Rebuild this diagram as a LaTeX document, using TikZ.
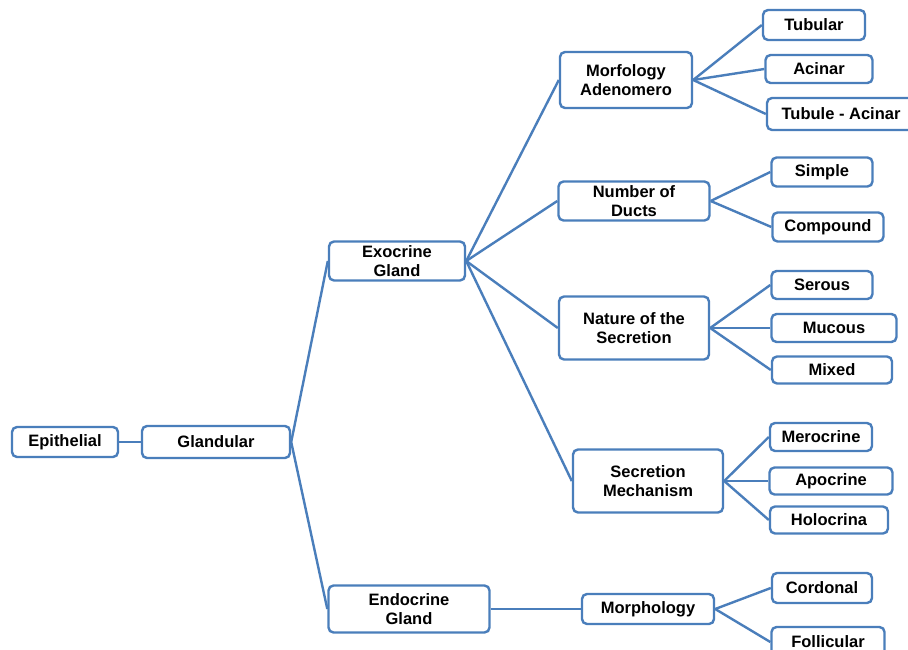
\documentclass[tikz,border=0pt]{standalone}
\usepackage{fontspec}
\setmainfont{Liberation Sans}
\usetikzlibrary{positioning}
\definecolor{lineblue}{RGB}{74,126,187}

\begin{document}
\begin{tikzpicture}[
    x=1pt, y=-1pt,
    font=\fontsize{16.5}{19.5}\selectfont\bfseries,
    box/.style={
        rectangle, draw=lineblue, line width=2.4pt,
        rounded corners=5pt, fill=white,
        align=center, inner sep=0pt
    },
    link/.style={draw=lineblue, line width=2.4pt}
]
\clip (0,0) rectangle (908,650);
\fill[white] (0,0) rectangle (908,650);

% 1. ROOT
\node[box, minimum width=106pt, minimum height=30pt] (Epi) at (65,442) {Epithelial};
\node[box, minimum width=148pt, minimum height=32pt] (Gland) at (216,442) {Glandular};
\draw[link] (Epi) -- (Gland);

% 2. EXOCRINE / ENDOCRINE
\node[box, minimum width=136pt, minimum height=39pt] (Exo) at (397,261) {Exocrine\\Gland};
\node[box, minimum width=161pt, minimum height=47pt] (Endo) at (409,609) {Endocrine\\Gland};
\draw[link] (Gland.east) -- (Exo.west);
\draw[link] (Gland.east) -- (Endo.west);

% 3. EXOCRINE CRITERIA
\node[box, minimum width=132pt, minimum height=56pt] (Morf) at (626,80) {Morfology\\Adenomero};
\node[box, minimum width=151pt, minimum height=39pt] (Ducts) at (634,201) {Number of\\Ducts};
\node[box, minimum width=150pt, minimum height=63pt] (Nature) at (634,328) {Nature of the\\Secretion};
\node[box, minimum width=150pt, minimum height=63pt] (Mech) at (648,481) {Secretion\\Mechanism};
\draw[link] (Exo.east) -- (Morf.west);
\draw[link] (Exo.east) -- (Ducts.west);
\draw[link] (Exo.east) -- (Nature.west);
\draw[link] (Exo.east) -- (Mech.west);

% Endocrine criterion
\node[box, minimum width=132pt, minimum height=30pt] (Morph) at (648,609) {Morphology};
\draw[link] (Endo.east) -- (Morph.west);

% 4. LEAVES
\node[box, minimum width=102pt, minimum height=30pt] (Tub) at (814,25) {Tubular};
\node[box, minimum width=107pt, minimum height=28pt] (Aci) at (819,69) {Acinar};
\node[box, minimum width=148pt, minimum height=32pt] (TubAci) at (841,114) {Tubule - Acinar};
\draw[link] (Morf.east) -- (Tub.west);
\draw[link] (Morf.east) -- (Aci.west);
\draw[link] (Morf.east) -- (TubAci.west);

\node[box, minimum width=101pt, minimum height=29pt] (Simp) at (822,172) {Simple};
\node[box, minimum width=111pt, minimum height=29pt] (Comp) at (828,227) {Compound};
\draw[link] (Ducts.east) -- (Simp.west);
\draw[link] (Ducts.east) -- (Comp.west);

\node[box, minimum width=101pt, minimum height=28pt] (Ser) at (822,285) {Serous};
\node[box, minimum width=125pt, minimum height=28pt] (Muc) at (834,328) {Mucous};
\node[box, minimum width=120pt, minimum height=27pt] (Mix) at (832,370) {Mixed};
\draw[link] (Nature.east) -- (Ser.west);
\draw[link] (Nature.east) -- (Muc.west);
\draw[link] (Nature.east) -- (Mix.west);

\node[box, minimum width=102pt, minimum height=28pt] (Mero) at (821,437) {Merocrine};
\node[box, minimum width=123pt, minimum height=27pt] (Apo) at (831,481) {Apocrine};
\node[box, minimum width=118pt, minimum height=27pt] (Holo) at (829,520) {Holocrina};
\draw[link] (Mech.east) -- (Mero.west);
\draw[link] (Mech.east) -- (Apo.west);
\draw[link] (Mech.east) -- (Holo.west);

\node[box, minimum width=100pt, minimum height=30pt] (Cord) at (822,588) {Cordonal};
\node[box, minimum width=113pt, minimum height=30pt] (Foll) at (828,642) {Follicular};
\draw[link] (Morph.east) -- (Cord.west);
\draw[link] (Morph.east) -- (Foll.west);

\end{tikzpicture}
\end{document}
